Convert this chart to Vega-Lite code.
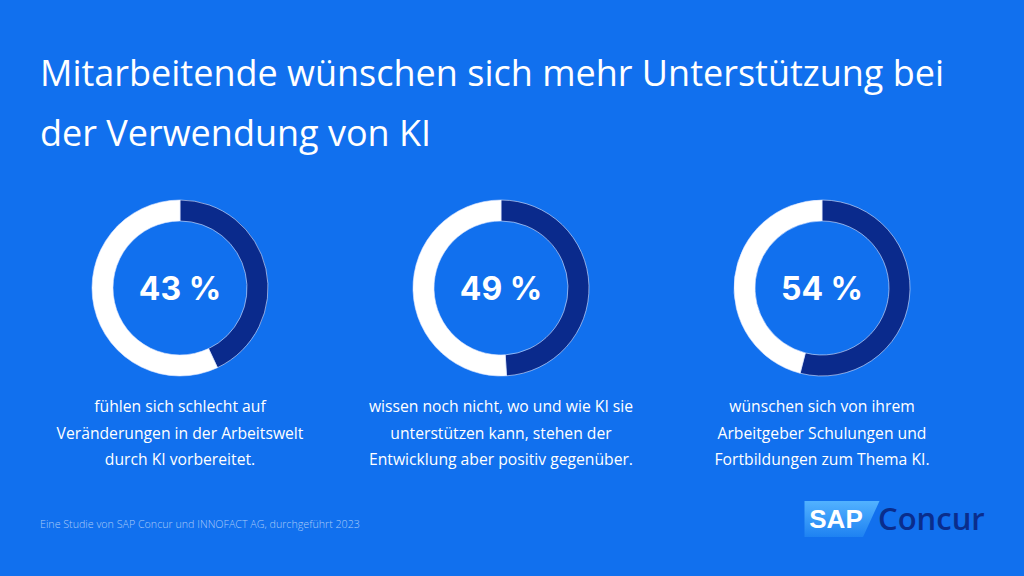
{
  "$schema": "https://vega.github.io/schema/vega-lite/v6.json",
  "width": 1024,
  "height": 576,
  "autosize": {"type": "none"},
  "padding": 0,
  "background": "#1170ee",
  "config": {"view": {"stroke": null}},
  "title": {
    "text": ["Mitarbeitende wünschen sich mehr Unterstützung bei", "der Verwendung von KI"],
    "anchor": "start",
    "orient": "top",
    "frame": "group",
    "baseline": "top",
    "offset": -154,
    "dx": 40,
    "font": "Open Sans",
    "fontSize": 36,
    "fontWeight": "normal",
    "color": "#ffffff",
    "lineHeight": 60
  },
  "datasets": {
    "slices": [
      {"item": "A", "part": "Anteil", "share": 43},
      {"item": "A", "part": "Rest", "share": 57},
      {"item": "B", "part": "Anteil", "share": 49},
      {"item": "B", "part": "Rest", "share": 51},
      {"item": "C", "part": "Anteil", "share": 54},
      {"item": "C", "part": "Rest", "share": 46}
    ],
    "items": [
      {"item": "A", "label": "43 %", "caption": "fühlen sich schlecht auf\nVeränderungen in der Arbeitswelt\ndurch KI vorbereitet."},
      {"item": "B", "label": "49 %", "caption": "wissen noch nicht, wo und wie KI sie\nunterstützen kann, stehen der\nEntwicklung aber positiv gegenüber."},
      {"item": "C", "label": "54 %", "caption": "wünschen sich von ihrem\nArbeitgeber Schulungen und\nFortbildungen zum Thema KI."}
    ]
  },
  "layer": [
    {
      "data": {"name": "slices"},
      "transform": [
        {"stack": "share", "groupby": ["item"], "sort": [{"field": "part", "order": "ascending"}], "as": ["t0", "t1"]}
      ],
      "mark": {"type": "arc", "outerRadius": 88, "innerRadius": 67, "stroke": "#dfe8ff", "strokeWidth": 0.6},
      "encoding": {
        "x": {"field": "item", "type": "nominal", "scale": {"type": "point", "range": [180, 822], "padding": 0}, "axis": null},
        "theta": {"field": "t0", "type": "quantitative", "scale": {"domain": [0, 100]}},
        "theta2": {"field": "t1"},
        "color": {"field": "part", "type": "nominal", "scale": {"domain": ["Anteil", "Rest"], "range": ["#0a2a8c", "#ffffff"]}, "legend": null}
      }
    },
    {
      "data": {"name": "items"},
      "mark": {"type": "text", "font": "Inter", "fontWeight": "bold", "fontSize": 32, "color": "#ffffff", "baseline": "middle", "align": "center", "dy": 2},
      "encoding": {
        "x": {"field": "item", "type": "nominal"},
        "text": {"field": "label"}
      }
    },
    {
      "data": {"name": "items"},
      "mark": {"type": "text", "font": "Open Sans", "fontSize": 15.7, "color": "#ffffff", "baseline": "top", "align": "center", "lineBreak": "\n", "lineHeight": 26.5, "dy": 112},
      "encoding": {
        "x": {"field": "item", "type": "nominal"},
        "text": {"field": "caption"}
      }
    },
    {
      "data": {"values": [{"note": "Eine Studie von SAP Concur und INNOFACT AG, durchgeführt 2023"}]},
      "mark": {"type": "text", "font": "Open Sans", "fontWeight": 300, "fontSize": 10.7, "color": "#a9caf8", "baseline": "middle", "align": "left"},
      "encoding": {
        "x": {"value": 40},
        "y": {"value": 525},
        "text": {"field": "note"}
      }
    },
    {
      "data": {"values": [{"brand": "SAP"}]},
      "mark": {
        "type": "point",
        "shape": "M -1 -0.48 L 1 -0.48 L 0.56 0.48 L -1 0.48 Z",
        "size": 5625,
        "filled": true,
        "opacity": 1,
        "strokeWidth": 0,
        "fill": {"gradient": "linear", "x1": 0, "y1": 0, "x2": 0, "y2": 1, "stops": [{"offset": 0, "color": "#52b2ff"}, {"offset": 1, "color": "#1e82f2"}]}
      },
      "encoding": {
        "x": {"value": 842},
        "y": {"value": 519}
      }
    },
    {
      "data": {"values": [{"brand": "SAP"}]},
      "mark": {"type": "text", "font": "Liberation Sans", "fontWeight": "bold", "fontSize": 26, "color": "#ffffff", "baseline": "middle", "align": "center", "letterSpacing": -1.5},
      "encoding": {
        "x": {"value": 836},
        "y": {"value": 520},
        "text": {"field": "brand"}
      }
    },
    {
      "data": {"values": [{"brand": "Concur"}]},
      "mark": {"type": "text", "font": "Open Sans", "fontWeight": 600, "fontSize": 31, "color": "#0a2d8c", "baseline": "alphabetic", "align": "left"},
      "encoding": {
        "x": {"value": 878},
        "y": {"value": 530},
        "text": {"field": "brand"}
      }
    }
  ]
}
